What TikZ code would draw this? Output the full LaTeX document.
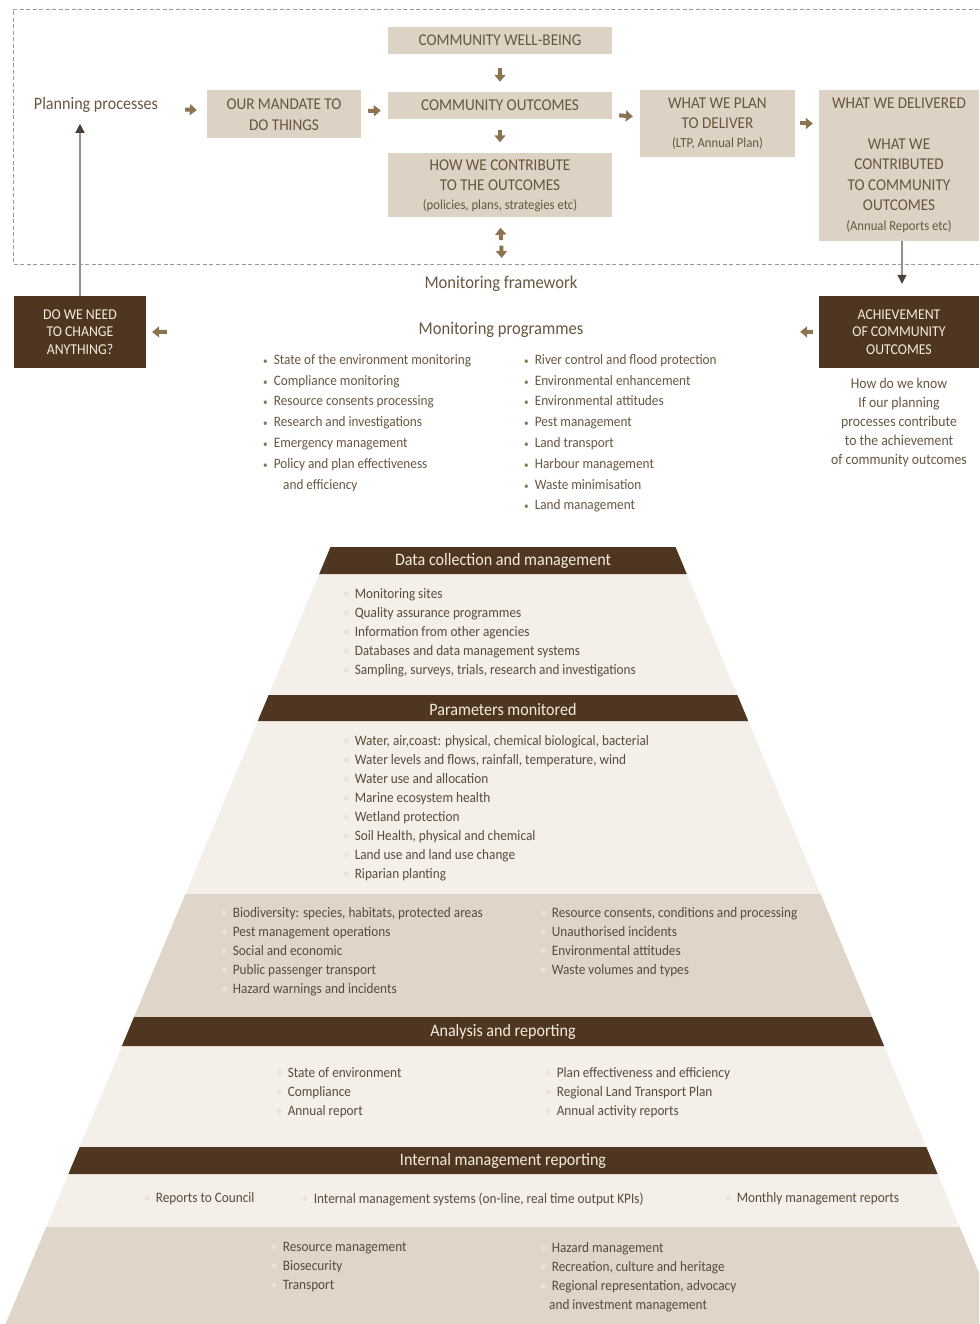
\documentclass[tikz,border=0pt]{standalone}
\usepackage{fontspec}
\setmainfont{Carlito}[FakeStretch=0.92]
\usetikzlibrary{arrows.meta,positioning}
\definecolor{darkbrown}{HTML}{4E3621}
\definecolor{boxbeige}{HTML}{DDD3C5}
\definecolor{cream}{HTML}{F4EFE8}
\definecolor{sand}{HTML}{DFD6C9}
\definecolor{arrowbrown}{HTML}{8C7453}
\definecolor{inktext}{HTML}{67553F}
\definecolor{pyrtext}{HTML}{5A4A3A}
\definecolor{framegray}{HTML}{9A9A9A}
\definecolor{linegray}{HTML}{9A9088}
\definecolor{tipgray}{HTML}{4A4038}
\definecolor{lightink}{HTML}{F3ECE2}
\definecolor{fadebul}{HTML}{EAE3D9}
\tikzset{
    lightbox/.style={fill=boxbeige, text=inktext, align=center, inner sep=0pt,
        font=\fontsize{16.5}{20.5}\selectfont},
    darkbox/.style={fill=darkbrown, text=lightink, align=center, inner sep=0pt,
        font=\fontsize{15}{17.5}\selectfont},
    fatarrow/.style={draw=arrowbrown, line width=4pt, -{Triangle[length=7pt,width=11pt]}},
    thinarrow/.style={draw=linegray, line width=1.3pt, -{Triangle[length=9pt,width=9pt,color=tipgray]}},
    plaintext/.style={text=inktext, inner sep=0pt, font=\fontsize{17.5}{20}\selectfont},
    listtext/.style={text=inktext, align=left, inner sep=0pt, anchor=north west,
        font=\fontsize{14.4}{20.8}\selectfont},
    pyrlist/.style={text=pyrtext, align=left, inner sep=0pt, anchor=north west,
        font=\fontsize{14.4}{19}\selectfont},
    bandtitle/.style={text=lightink, inner sep=0pt, font=\fontsize{17.5}{20}\selectfont},
    }
\newcommand{\bul}{{\color{arrowbrown}\fontsize{10}{10}\selectfont\textbullet}\hspace{6pt}}
\newcommand{\fbul}{{\color{fadebul}\textbullet}\hspace{5pt}}
\newcommand{\smalltxt}{\fontsize{13.8}{18}\selectfont}
% one slice of the pyramid, #2 top and #3 bottom
\newcommand{\pyrlayer}[3]{\fill[#1]
    ({503-172.5-0.418*(#2-547)},#2) -- ({503+172.5+0.418*(#2-547)},#2) --
    ({503+172.5+0.418*(#3-547)},#3) -- ({503-172.5-0.418*(#3-547)},#3) -- cycle;}
\begin{document}
\begin{tikzpicture}[x=1pt,y=-1pt]
    \useasboundingbox (0,0) rectangle (979,1324);
    % planning frame
    \draw[framegray, line width=0.8pt, dash pattern=on 4pt off 2.5pt]
        (979,9) -- (13,9) -- (13,264) -- (979,264);
    \node[plaintext] (plan) at (96,105) {Planning processes};
    \node[lightbox, minimum width=154, minimum height=48] (mandate) at (284,114.5) {OUR MANDATE TO\\[1pt]DO THINGS};
    \node[lightbox, minimum width=224, minimum height=27] (wellbeing) at (500,40.5) {COMMUNITY WELL-BEING};
    \node[lightbox, minimum width=224, minimum height=27] (outcomes) at (500,105.5) {COMMUNITY OUTCOMES};
    \node[lightbox, minimum width=224, minimum height=64] (contrib) at (500,185.5)
        {HOW WE CONTRIBUTE\\TO THE OUTCOMES\\[-2pt]{\smalltxt(policies, plans, strategies etc)}};
    \node[lightbox, minimum width=155, minimum height=67] (plandel) at (717.5,123.5)
        {WHAT WE PLAN\\TO DELIVER\\[-2pt]{\smalltxt(LTP, Annual Plan)}};
    \node[lightbox, minimum width=160, minimum height=151] (delivered) at (899,165.5)
        {WHAT WE DELIVERED\\[20pt]WHAT WE\\CONTRIBUTED\\TO COMMUNITY\\OUTCOMES\\[-1pt]{\smalltxt(Annual Reports etc)}};
    \coordinate (fwtop) at (502,262);

    \draw[fatarrow, shorten <=27, shorten >=10] (plan) -- (mandate);
    \draw[fatarrow, shorten <=7, shorten >=7] (mandate) -- (outcomes);
    \draw[fatarrow, shorten <=7, shorten >=7] (outcomes) -- (plandel);
    \draw[fatarrow, shorten <=5, shorten >=6] (plandel.east) -- (delivered.west |- plandel.east);
    \draw[fatarrow, shorten <=14, shorten >=10] (wellbeing) -- (outcomes);
    \draw[fatarrow, shorten <=11, shorten >=11] (outcomes) -- (contrib);
    \draw[fatarrow, shorten <=22, shorten >=10] (fwtop) -- (contrib.south);
    \draw[fatarrow, shorten <=28, shorten >=4] (contrib.south) -- (fwtop);

    % monitoring
    \node[plaintext, font=\fontsize{18}{20}\selectfont] (mfw) at (501,284) {Monitoring framework};
    \node[plaintext, minimum width=170, font=\fontsize{18}{20}\selectfont] (mprog) at (501,330) {Monitoring programmes};
    \node[darkbox, minimum width=132, minimum height=72] (dowe) at (80,332) {DO WE NEED\\TO CHANGE\\ANYTHING?};
    \node[darkbox, minimum width=160, minimum height=72] (achieve) at (899,332) {ACHIEVEMENT\\OF COMMUNITY\\OUTCOMES};
    \draw[thinarrow, shorten >=12] (delivered.south -| 902,0) -- (achieve.north -| 902,0);
    \draw[thinarrow, shorten >=11] (dowe.north) -- (plan.south -| dowe.north);
    \draw[fatarrow, shorten <=6, shorten >=214] (achieve.west) -- (mprog.east);
    \draw[fatarrow, shorten <=249, shorten >=6] (mprog.west) -- (dowe.east);

    \node[listtext] (progl) at (263,354) {\bul State of the environment monitoring\\
        \bul Compliance monitoring\\ \bul Resource consents processing\\
        \bul Research and investigations\\ \bul Emergency management\\
        \bul Policy and plan effectiveness\\ \hspace{20pt}and efficiency};
    \node[listtext] (progr) at (524,354) {\bul River control and flood protection\\
        \bul Environmental enhancement\\ \bul Environmental attitudes\\
        \bul Pest management\\ \bul Land transport\\ \bul Harbour management\\
        \bul Waste minimisation\\ \bul Land management};
    \node[listtext, anchor=north, align=center, font=\fontsize{14.9}{19}\selectfont] (know) at (899,378)
        {How do we know\\If our planning\\processes contribute\\to the achievement\\of community outcomes};

    % pyramid
    \begin{scope}
        \clip (0,0) rectangle (979,1324);
        \pyrlayer{cream}{547}{1324}
        \pyrlayer{darkbrown}{547}{574}
        \pyrlayer{darkbrown}{695}{721}
        \pyrlayer{sand}{894}{1017}
        \pyrlayer{darkbrown}{1017}{1046}
        \pyrlayer{darkbrown}{1147}{1174}
        \pyrlayer{sand}{1227}{1324}
    \end{scope}
    \node[bandtitle] (datatitle) at (503,561) {Data collection and management};
    \node[bandtitle] (paramtitle) at (503,709) {Parameters monitored};
    \node[bandtitle] (analtitle) at (503,1032) {Analysis and reporting};
    \node[bandtitle] (internaltitle) at (503,1161) {Internal management reporting};

    \node[pyrlist] (datalist) at (343,588.5) {\fbul Monitoring sites\\ \fbul Quality assurance programmes\\
        \fbul Information from other agencies\\ \fbul Databases and data management systems\\
        \fbul Sampling, surveys, trials, research and investigations};
    \node[pyrlist] (paramlist) at (343,735.5) {\fbul Water, air,coast: physical, chemical biological, bacterial\\
        \fbul Water levels and flows, rainfall, temperature, wind\\ \fbul Water use and allocation\\
        \fbul Marine ecosystem health\\ \fbul Wetland protection\\
        \fbul Soil Health, physical and chemical\\ \fbul Land use and land use change\\
        \fbul Riparian planting};
    \node[pyrlist] (bioleft) at (221,907.5) {\fbul Biodiversity: species, habitats, protected areas\\
        \fbul Pest management operations\\ \fbul Social and economic\\
        \fbul Public passenger transport\\ \fbul Hazard warnings and incidents};
    \node[pyrlist] (bioright) at (540,907.5) {\fbul Resource consents, conditions and processing\\
        \fbul Unauthorised incidents\\ \fbul Environmental attitudes\\ \fbul Waste volumes and types};
    \node[pyrlist] (analleft) at (276,1067.5) {\fbul State of environment\\ \fbul Compliance\\ \fbul Annual report};
    \node[pyrlist] (analright) at (545,1067.5) {\fbul Plan effectiveness and efficiency\\
        \fbul Regional Land Transport Plan\\ \fbul Annual activity reports};
    \node[pyrlist] (council) at (144,1192.5) {\fbul Reports to Council};
    \node[pyrlist] (ims) at (302,1192.5) {\fbul Internal management systems (on-line, real time output KPIs)};
    \node[pyrlist] (monthly) at (725,1192.5) {\fbul Monthly management reports};
    \node[pyrlist] (mgmtleft) at (271,1242.5) {\fbul Resource management\\ \fbul Biosecurity\\ \fbul Transport};
    \node[pyrlist] (mgmtright) at (540,1242.5) {\fbul Hazard management\\ \fbul Recreation, culture and heritage\\
        \fbul Regional representation, advocacy\\ \hspace{9pt}and investment management};
\end{tikzpicture}
\end{document}
